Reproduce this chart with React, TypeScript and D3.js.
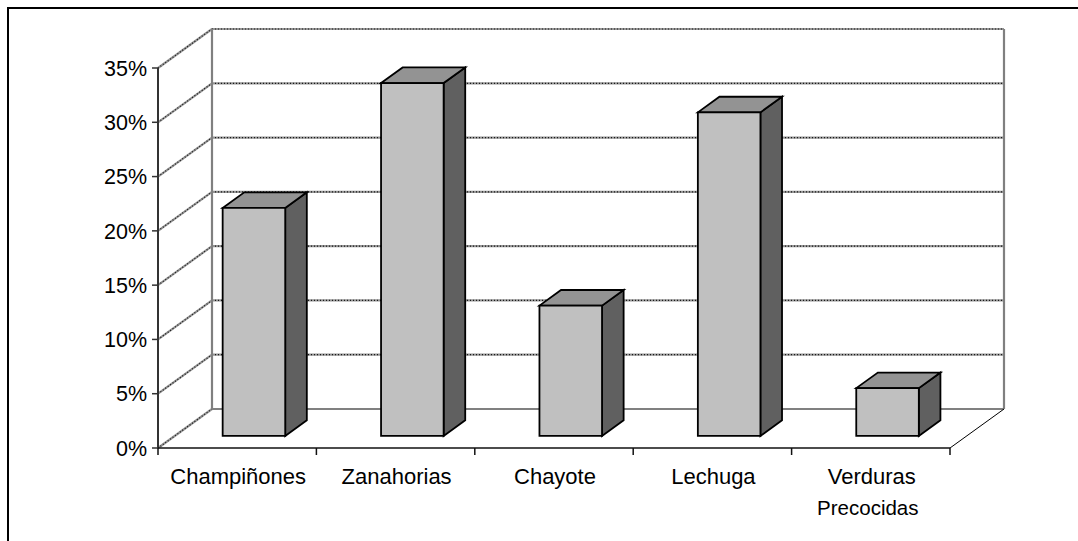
import React from "react";
import * as d3 from "d3";

// Share of respondents per vegetable product (%)
const categories = ["Champiñones", "Zanahorias", "Chayote", "Lechuga", "Verduras Precocidas"];
const labelLines = [["Champiñones"], ["Zanahorias"], ["Chayote"], ["Lechuga"], ["Verduras", "Precocidas"]];
const values = [21.0, 32.5, 12.0, 29.8, 4.4];
const yTicks = [0, 5, 10, 15, 20, 25, 30, 35];

const W = 1078;
const H = 541;

// Plot geometry: front plane plus a depth vector towards the back wall
const FRONT_LEFT = 158;
const FRONT_RIGHT = 950;
const FRONT_BOTTOM = 448;
const FRONT_TOP = 68;
const DX = 54;
const DY = -39;
const BAR_FRONT = 0.31; // bar front face, fraction of depth
const BAR_BACK = 0.71; // bar back face, fraction of depth

const FONT = "'Liberation Sans', Arial, sans-serif";

function GridLine({ x1, y1, x2, y2 }: { x1: number; y1: number; x2: number; y2: number }) {
  return (
    <g>
      <line x1={x1} y1={y1} x2={x2} y2={y2} stroke="#959595" strokeWidth={2.2} />
      <line x1={x1} y1={y1} x2={x2} y2={y2} stroke="#1a1a1a" strokeWidth={1.2} strokeDasharray="1 2" />
    </g>
  );
}

export default function App() {
  const xCat = d3.scaleBand<string>().domain(categories).range([FRONT_LEFT, FRONT_RIGHT]);
  const xBar = d3
    .scaleBand<string>()
    .domain(categories)
    .range([FRONT_LEFT, FRONT_RIGHT])
    .paddingInner(0.605)
    .paddingOuter(0.3025);
  const y = d3.scaleLinear().domain([0, 35]).range([FRONT_BOTTOM, FRONT_TOP]);

  const backX0 = FRONT_LEFT + DX;
  const backX1 = FRONT_RIGHT + DX;
  const backY = (v: number) => y(v) + DY;

  const fx = BAR_FRONT * DX;
  const fy = BAR_FRONT * DY;
  const bx = BAR_BACK * DX;
  const by = BAR_BACK * DY;

  const boundaries = categories.map((c) => xCat(c)!).concat([FRONT_RIGHT]);

  return (
    <div style={{ position: "absolute", left: 0, top: 0 }}>
      <svg width={W} height={H} style={{ display: "block", background: "#fff" }}>
        {/* outer frame */}
        <rect x={8} y={8} width={W + 10} height={H + 10} fill="none" stroke="#000" strokeWidth={2} />

        {/* back wall gridlines and side wall gridlines */}
        {yTicks.map((t) =>
          t === 0 ? null : <GridLine key={"b" + t} x1={backX0} y1={backY(t)} x2={backX1} y2={backY(t)} />
        )}
        {yTicks.map((t) => (
          <GridLine key={"s" + t} x1={FRONT_LEFT} y1={y(t)} x2={backX0} y2={backY(t)} />
        ))}
        {/* back floor edge and wall edges */}
        <line x1={backX0} y1={backY(0)} x2={backX1} y2={backY(0)} stroke="#808080" strokeWidth={2.2} />
        <line x1={backX0} y1={backY(0)} x2={backX0} y2={backY(35)} stroke="#808080" strokeWidth={2.2} />
        <line x1={backX1} y1={backY(0)} x2={backX1} y2={backY(35)} stroke="#808080" strokeWidth={2.2} />

        {/* floor right edge */}
        <line x1={FRONT_RIGHT} y1={FRONT_BOTTOM} x2={backX1} y2={backY(0)} stroke="#000" strokeWidth={1} />

        {/* bars */}
        {categories.map((c, i) => {
          const x0 = xBar(c)! + fx;
          const x1 = xBar(c)! + xBar.bandwidth() + fx;
          const yb = y(0) + fy;
          const yt = y(values[i]) + fy;
          const ddx = bx - fx;
          const ddy = by - fy;
          const front = `M${x0},${yt}L${x1},${yt}L${x1},${yb}L${x0},${yb}Z`;
          const top = `M${x0},${yt}L${x0 + ddx},${yt + ddy}L${x1 + ddx},${yt + ddy}L${x1},${yt}Z`;
          const side = `M${x1},${yt}L${x1 + ddx},${yt + ddy}L${x1 + ddx},${yb + ddy}L${x1},${yb}Z`;
          return (
            <g key={c} stroke="#000" strokeWidth={1.8} strokeLinejoin="miter">
              <path d={side} fill="#606060" />
              <path d={top} fill="#939393" />
              <path d={front} fill="#c0c0c0" />
            </g>
          );
        })}

        {/* value axis */}
        <line x1={FRONT_LEFT} y1={y(0)} x2={FRONT_LEFT} y2={y(35)} stroke="#333" strokeWidth={2} />
        {yTicks.map((t) => (
          <g key={"t" + t}>
            <line x1={FRONT_LEFT - 6} y1={y(t)} x2={FRONT_LEFT} y2={y(t)} stroke="#333" strokeWidth={1.5} />
            <text
              x={147}
              y={y(t)}
              dy="0.36em"
              textAnchor="end"
              fontFamily={FONT}
              fontSize={21.5}
              fill="#000"
            >
              {t}%
            </text>
          </g>
        ))}

        {/* category axis */}
        <line x1={FRONT_LEFT} y1={FRONT_BOTTOM} x2={FRONT_RIGHT} y2={FRONT_BOTTOM} stroke="#111" strokeWidth={1.6} />
        {boundaries.map((bxv, i) => (
          <line key={"c" + i} x1={bxv} y1={FRONT_BOTTOM} x2={bxv} y2={FRONT_BOTTOM + 7} stroke="#111" strokeWidth={1.5} />
        ))}
        {categories.map((c, i) => (
          <text
            key={"l" + c}
            x={xCat(c)! + xCat.bandwidth() / 2}
            textAnchor="middle"
            fontFamily={FONT}
            fill="#000"
          >
            {labelLines[i].map((ln, j) => (
              <tspan key={j} x={xCat(c)! + xCat.bandwidth() / 2 + (j === 1 ? -3 : 1)} y={484 + j * 31} fontSize={j === 0 ? 22 : 20.5}>
                {ln}
              </tspan>
            ))}
          </text>
        ))}
      </svg>
    </div>
  );
}
